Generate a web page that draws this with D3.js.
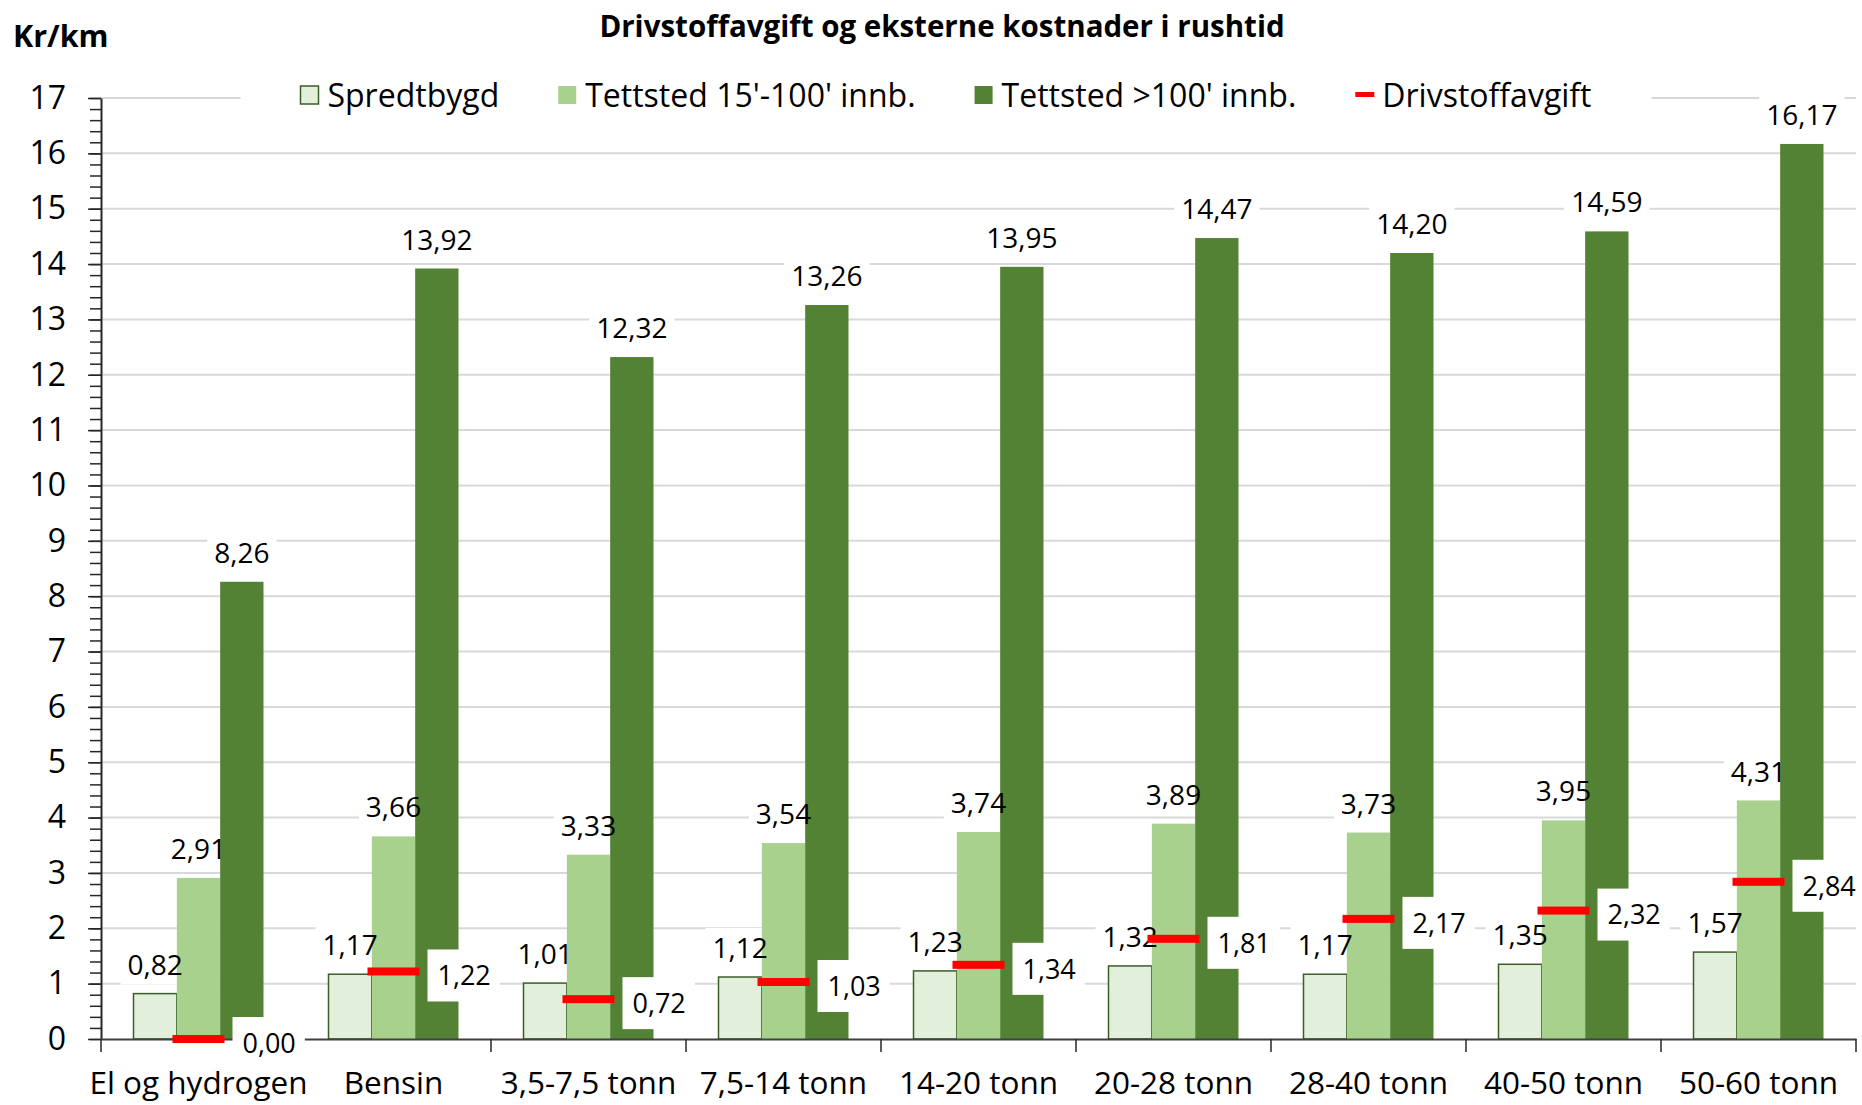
<!DOCTYPE html>
<html>
<head>
<meta charset="utf-8">
<script src="https://cdn.jsdelivr.net/npm/d3@7"></script>
<style>
  body { margin: 0; background: #fff; }
  svg text { font-family: "Open Sans", sans-serif; fill: #000; }
</style>
</head>
<body>
<div id="main"></div>
<script>
// chart values
const categories = ['El og hydrogen', 'Bensin', '3,5-7,5 tonn', '7,5-14 tonn', '14-20 tonn', '20-28 tonn', '28-40 tonn', '40-50 tonn', '50-60 tonn'];
const seriesNames = ["Spredtbygd", "Tettsted 15'-100' innb.", "Tettsted >100' innb.", "Drivstoffavgift"];
const spredtbygd = [0.82, 1.17, 1.01, 1.12, 1.23, 1.32, 1.17, 1.35, 1.57];
const tettstedMiddels = [2.91, 3.66, 3.33, 3.54, 3.74, 3.89, 3.73, 3.95, 4.31];
const tettstedStor = [8.26, 13.92, 12.32, 13.26, 13.95, 14.47, 14.20, 14.59, 16.17];
const drivstoffavgift = [0.00, 1.22, 0.72, 1.03, 1.34, 1.81, 2.17, 2.32, 2.84];
const yTicks = d3.range(0, 18);
const yMinorTicks = d3.range(0, 86).map(i => i / 5);

const title = 'Drivstoffavgift og eksterne kostnader i rushtid';
const yTitle = 'Kr/km';

const colors = ['#e2efda', '#a9d18e', '#548235', '#ff0000'];

const width = 1862;
const height = 1105;
const margin = { top: 98, bottom: 66, left: 101, right: 6 };

const nb = d3.formatLocale({ decimal: ',', thousands: ' ', grouping: [3], currency: ['', ''] });
const fmt = nb.format('.2f');

const svg = d3.select('#main')
  .append('svg')
  .attr('width', width)
  .attr('height', height)
  .attr('viewBox', [0, 0, width, height]);

const x = d3.scaleBand()
  .domain(categories)
  .range([margin.left, width - margin.right])
  .padding(0);

// Excel style clustered bars: gap width 150%
const bw = x.bandwidth() / 4.5;
const xSub = d3.scaleBand()
  .domain([0, 1, 2])
  .range([0.75 * bw, 3.75 * bw]);

const y = d3.scaleLinear()
  .domain([0, 17])
  .range([height - margin.bottom, margin.top]);

const barData = categories.flatMap((c, i) =>
  [spredtbygd[i], tettstedMiddels[i], tettstedStor[i]].map((v, s) => ({ c, s, v })));

// gridlines
svg.append('g')
  .selectAll('line')
  .data(yTicks.slice(1))
  .join('line')
    .attr('x1', margin.left)
    .attr('x2', width - margin.right)
    .attr('y1', d => y(d))
    .attr('y2', d => y(d))
    .attr('stroke', '#d9d9d9')
    .attr('stroke-width', 2);

const labelBg = svg.append('g');
const bars = svg.append('g');
const labelText = svg.append('g');

bars.selectAll('rect')
  .data(barData)
  .join('rect')
    .attr('x', d => x(d.c) + xSub(d.s))
    .attr('y', d => y(d.v))
    .attr('width', xSub.bandwidth())
    .attr('height', d => y(0) - y(d.v))
    .attr('fill', d => colors[d.s])
    .attr('stroke', d => d.s === 0 ? '#3b5e27' : 'none')
    .attr('stroke-width', 1.5);

const barLabels = labelText.selectAll('text')
  .data(barData)
  .join('text')
    .attr('x', d => x(d.c) + xSub(d.s) + xSub.bandwidth() / 2)
    .attr('y', d => y(d.v) - 29)
    .attr('dy', '0.36em')
    .attr('text-anchor', 'middle')
    .attr('font-size', 28)
    .text(d => fmt(d.v));

barLabels.each(function(d) {
  const w = this.getComputedTextLength();
  labelBg.append('rect')
    .attr('x', x(d.c) + xSub(d.s) + xSub.bandwidth() / 2 - w / 2 - 7)
    .attr('y', y(d.v) - 29 - 20)
    .attr('width', w + 14)
    .attr('height', 40)
    .attr('fill', '#fff');
});

// y axis: minor and major ticks
function yMinor(g) {
  g.attr('transform', `translate(${margin.left},0)`)
    .call(d3.axisLeft(y).tickValues(yMinorTicks).tickSize(11).tickFormat('').tickSizeOuter(0))
    .call(g => g.selectAll('line').attr('stroke', '#262626').attr('stroke-width', 1.5))
    .call(g => g.select('.domain').attr('stroke', '#262626').attr('stroke-width', 2));
}
function yAxis(g) {
  g.attr('transform', `translate(${margin.left},0)`)
    .call(d3.axisLeft(y).tickValues(yTicks).tickSize(13).tickPadding(22).tickSizeOuter(0))
    .call(g => g.select('.domain').remove())
    .call(g => g.selectAll('line').attr('stroke', '#262626').attr('stroke-width', 1.5))
    .call(g => g.selectAll('text').attr('font-size', 32).attr('font-family', null).attr('fill', '#000'));
}
function xAxis(g) {
  g.attr('transform', `translate(0,${y(0)})`)
    .call(d3.axisBottom(x).tickSize(0).tickPadding(33))
    .call(g => g.select('.domain').attr('stroke', '#404040').attr('stroke-width', 2))
    .call(g => g.selectAll('text').attr('font-size', 31.5).attr('font-family', null).attr('fill', '#000'));
  g.selectAll('.sep')
    .data(categories.map(c => x(c)).concat([x.range()[1]]))
    .join('line')
      .attr('class', 'sep')
      .attr('x1', d => d)
      .attr('x2', d => d)
      .attr('y1', 0)
      .attr('y2', 13)
      .attr('stroke', '#262626')
      .attr('stroke-width', 1.5);
}

svg.append('g').call(yMinor);
svg.append('g').call(yAxis);
svg.append('g').call(xAxis);

// Drivstoffavgift markers and their labels
const markW = 52;
const marks = svg.append('g');
marks.selectAll('rect')
  .data(drivstoffavgift)
  .join('rect')
    .attr('x', (d, i) => x(categories[i]) + x.bandwidth() / 2 - markW / 2)
    .attr('y', d => y(d) - 4)
    .attr('width', markW)
    .attr('height', 8)
    .attr('fill', colors[3]);

const markLabels = svg.append('g');
drivstoffavgift.forEach((d, i) => {
  const x0 = x(categories[i]) + x.bandwidth() / 2 + markW / 2 + 8;
  const bg = markLabels.append('rect');
  const t = markLabels.append('text')
    .attr('x', x0 + 10)
    .attr('y', y(d) + 4)
    .attr('dy', '0.36em')
    .attr('font-size', 27)
    .text(fmt(d));
  const w = t.node().getComputedTextLength();
  bg.attr('x', x0)
    .attr('y', y(d) + 4 - 26)
    .attr('width', w + 19)
    .attr('height', 52)
    .attr('fill', '#fff');
});

// legend
const legend = svg.append('g');
const legendBg = legend.append('rect').attr('fill', '#fff');
let lx = 0;
seriesNames.forEach((name, i) => {
  const g = legend.append('g');
  if (i < 3) {
    g.append('rect')
      .attr('x', 0).attr('y', -9).attr('width', 18).attr('height', 18)
      .attr('fill', colors[i])
      .attr('stroke', i === 0 ? '#3b5e27' : 'none')
      .attr('stroke-width', 1.5);
  } else {
    g.append('rect')
      .attr('x', 0).attr('y', -3).attr('width', 19).attr('height', 5)
      .attr('fill', colors[i]);
  }
  const t = g.append('text')
    .attr('x', 27)
    .attr('dy', '0.36em')
    .attr('font-size', 32)
    .text(name);
  const w = 27 + t.node().getComputedTextLength();
  g.attr('transform', `translate(${lx},95)`);
  lx += w + 59;
});
const legendW = lx - 59;
const legendX = 946 - legendW / 2;
legend.attr('transform', `translate(${legendX},0)`);
legendBg
  .attr('x', -60)
  .attr('y', 74)
  .attr('width', legendW + 120)
  .attr('height', 44);

svg.append('text')
  .attr('x', 942)
  .attr('y', 26)
  .attr('dy', '0.36em')
  .attr('text-anchor', 'middle')
  .attr('font-size', 29.5)
  .attr('font-weight', 'bold')
  .text(title);

svg.append('text')
  .attr('x', 13)
  .attr('y', 36)
  .attr('dy', '0.36em')
  .attr('font-size', 30.5)
  .attr('font-weight', 'bold')
  .text(yTitle);
</script>
</body>
</html>
